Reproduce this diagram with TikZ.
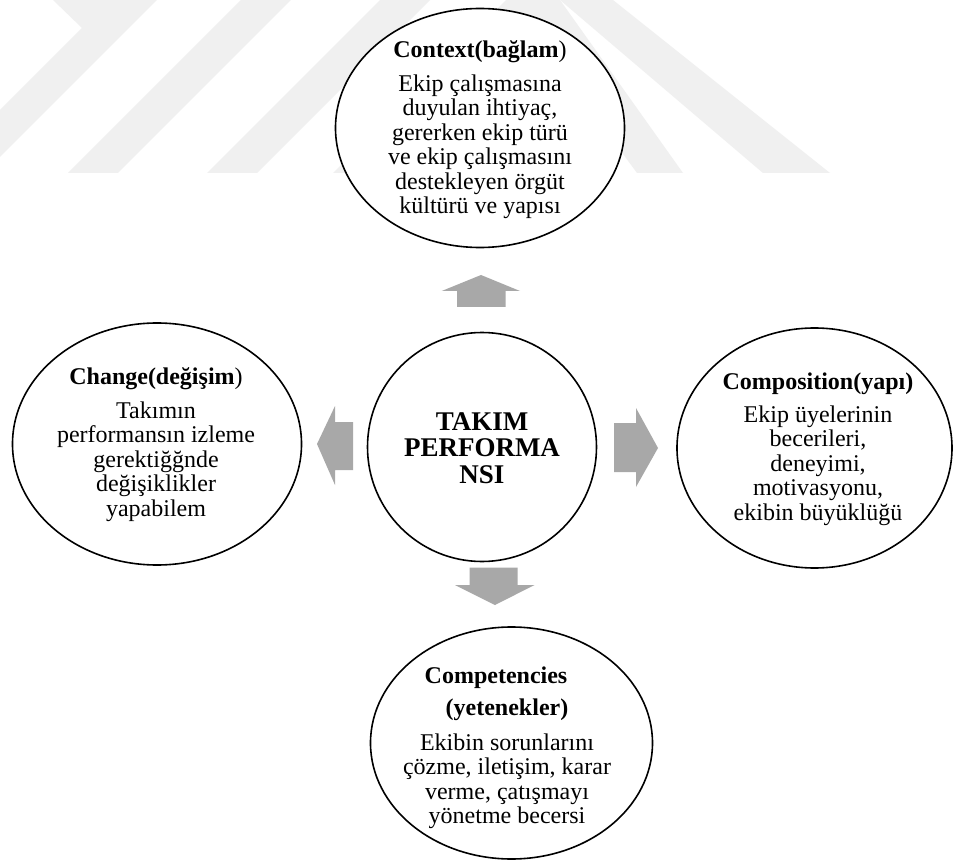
\documentclass[tikz,border=0pt]{standalone}
\usepackage{fontspec}
\setmainfont{Liberation Serif}
\usetikzlibrary{shapes.geometric}

\definecolor{arrowgray}{RGB}{168,168,168}
\definecolor{stripegray}{RGB}{240,240,240}

\tikzset{
  oval/.style={ellipse, draw=black, line width=1.6pt, fill=white, inner sep=0pt},
  ovaltext/.style={align=center, anchor=north, inner sep=0pt,
    font=\fontsize{24}{24.5}\selectfont},
  hubtext/.style={align=center, anchor=north, inner sep=0pt,
    font=\fontsize{27}{26.7}\selectfont\bfseries},
  blockarrow/.style={fill=arrowgray, draw=none},
  stripe/.style={fill=stripegray, draw=none}
}

\begin{document}
\begin{tikzpicture}[x=1pt, y=-1pt]
\useasboundingbox (0,0) rectangle (954,861);
\fill[white] (0,0) rectangle (954,861);

% faint background stripes
\path[stripe] (53,0) -- (82,28) -- (0,110) -- (0,157) -- (157,0) -- cycle;
\path[stripe] (68,173) -- (118,173) -- (291,0) -- (241,0) -- cycle;
\path[stripe] (207,173) -- (257,173) -- (430,0) -- (380,0) -- cycle;
\path[stripe] (333,173) -- (383,173) -- (556,0) -- (506,0) -- cycle;
\path[stripe] (637,173) -- (683,173) -- (560,0) -- (510,0) -- cycle;
\path[stripe] (763,173) -- (830,173) -- (613,0) -- (560,0) -- cycle;

% ovals
\node[oval, minimum width=289pt, minimum height=239pt] (context) at (480,128) {};
\node[oval, minimum width=289pt, minimum height=242pt] (change) at (157,444) {};
\node[oval, minimum width=275pt, minimum height=240pt] (composition) at (814.5,448) {};
\node[oval, minimum width=282pt, minimum height=232pt] (competencies) at (511.5,743) {};
\node[circle, draw=black, line width=1.6pt, fill=white, minimum size=229pt, inner sep=0pt] (hub) at (482,447) {};

% block arrows around the hub
\path[blockarrow] (481,275) -- (520,291) -- (505.7,291) -- (505.7,307)
  -- (457,307) -- (457,291) -- (441.7,291) -- cycle;
\path[blockarrow] (658,448) -- (636,487) -- (636,472) -- (614,472)
  -- (614,423) -- (636,423) -- (636,408) -- cycle;
\path[blockarrow] (317,444) -- (335,406) -- (335,422) -- (353,422)
  -- (353,470) -- (335,470) -- (335,485) -- cycle;
\path[blockarrow] (495,605) -- (455,585) -- (469.5,585) -- (469.5,567.5)
  -- (517.5,567.5) -- (517.5,585) -- (534.5,585) -- cycle;

% texts
\node[hubtext] (hubtxt) at (482,412) {TAKIM\\PERFORMA\\NSI};

\node[ovaltext] (contexttxt) at (480,40.5)
  {{\bfseries Context(bağlam})\\[9.2pt]
   Ekip çalışmasına\\duyulan ihtiyaç,\\gererken ekip türü\\ve ekip çalışmasını\\destekleyen örgüt\\kültürü ve yapısı};

\node[ovaltext] (changetxt) at (156,367.5)
  {{\bfseries Change(değişim})\\[9.2pt]
   Takımın\\performansın izleme\\gerektiğğnde\\değişiklikler\\yapabilem};

\node[ovaltext] (compositiontxt) at (818,372.5)
  {{\bfseries Composition(yapı)}\\[8.2pt]
   Ekip üyelerinin\\becerileri,\\deneyimi,\\motivasyonu,\\ekibin büyüklüğü};

\node[ovaltext] (competenciestxt) at (507,666.5)
  {{\bfseries Competencies}\hspace*{22pt}\\[7.5pt]
   {\bfseries (yetenekler)}\hspace*{22pt}\\[10.5pt]
   Ekibin sorunlarını\\çözme, iletişim, karar\\verme, çatışmayı\\yönetme becersi};
\end{tikzpicture}
\end{document}
